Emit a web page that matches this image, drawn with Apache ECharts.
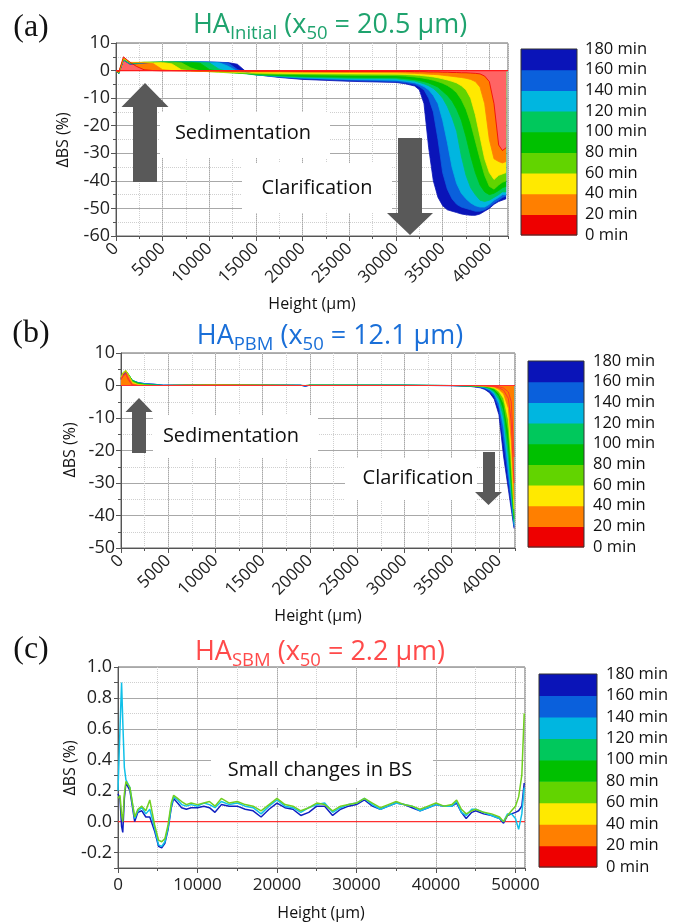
<!DOCTYPE html>
<html><head><meta charset="utf-8">
<script src="https://cdn.jsdelivr.net/npm/echarts@6/dist/echarts.min.js"></script>
<style>html,body{margin:0;padding:0;background:#fff}#c{width:677px;height:923px}</style>
</head><body><div id="c"></div>
<script>
// ---------- shared legend data ----------
const timesMin = [0, 20, 40, 60, 80, 100, 120, 140, 160, 180];
const bandColors = ['#ee0000', '#ff7f00', '#ffe900', '#62d400', '#00c000', '#00c85c', '#00b6e0', '#0a60dc', '#0a14b8'];

// ---------- panel (a) HA Initial ----------
const aHeight = [0,300,800,1500,2200,3000,4000,5000,6000,7000,8000,9000,10000,11000,12000,13000,14000,15000,17500,20000,25000,
  30000,31000,32000,32500,33000,33500,34000,34500,35000,35500,36000,36500,37000,37500,38000,38500,39000,39500,40000,40500,41000,41400,41800];
const a20  = [0,-0.5,5.0,3.0,1.5,0.3,0,-0.1,-0.1,-0.1,-0.1,-0.1,-0.1,-0.1,-0.2,-0.2,-0.2,-0.2,-0.2,-0.3,-0.3,
  -0.3,-0.3,-0.4,-0.4,-0.4,-0.5,-0.5,-0.5,-0.6,-0.6,-0.7,-0.7,-0.8,-0.8,-0.9,-1.0,-1.2,-2,-4,-12,-27,-29,-28];
const a40  = [0,-0.6,4.6,3.0,2.9,2.8,2.5,0.3,0,-0.1,-0.2,-0.3,-0.3,-0.3,-0.4,-0.4,-0.4,-0.5,-0.5,-0.6,-0.7,
  -0.8,-0.9,-1.0,-1.1,-1.2,-1.3,-1.4,-1.5,-1.7,-1.9,-2.1,-2.3,-2.5,-2.8,-3.2,-4,-6,-12,-25,-32,-33,-33.5,-33];
const a60  = [0,-0.7,4.4,2.9,3.0,3.0,3.0,2.9,2.4,0.3,-0.1,-0.3,-0.4,-0.5,-0.6,-0.7,-0.8,-0.9,-1.0,-1.1,-1.2,
  -1.3,-1.4,-1.6,-1.7,-1.9,-2.1,-2.3,-2.6,-3,-3.4,-3.9,-4.5,-5.5,-7,-10,-16,-24,-32,-37,-39.5,-38,-37.5,-37];
const a80  = [0,-0.8,4.3,2.8,2.9,3.0,3.0,3.0,3.0,2.8,1.0,-0.1,-0.4,-0.6,-0.8,-0.9,-1.0,-1.2,-1.4,-1.5,-1.7,
  -1.8,-2.0,-2.3,-2.5,-2.8,-3.1,-3.5,-4,-4.6,-5.4,-6.5,-8,-10.5,-14,-19,-25.5,-32,-38,-42,-43,-41.5,-40.5,-40];
const a100 = [0,-0.9,4.2,2.7,2.8,3.0,3.0,3.1,3.1,3.0,3.0,2.7,0.4,-0.3,-0.7,-0.9,-1.1,-1.4,-1.8,-2.1,-2.4,
  -2.6,-2.9,-3.3,-3.6,-4,-4.5,-5.2,-6,-7.5,-9,-11,-14,-18,-24,-31,-37,-41.5,-44,-45,-44.5,-43.5,-42.5,-42];
const a120 = [0,-1.0,4.1,2.6,2.8,2.9,3.0,3.1,3.1,3.1,3.1,3.0,2.8,0.6,-0.4,-0.9,-1.2,-1.6,-2.0,-2.4,-2.8,
  -3.0,-3.4,-3.8,-4.3,-4.8,-5.5,-6.5,-8,-10,-13,-17,-22,-31,-38,-42.5,-45,-47,-47.5,-47,-46,-45,-44,-44];
const a140 = [0,-1.0,4.0,2.5,2.7,2.9,3.0,3.1,3.1,3.2,3.2,3.1,3.0,2.9,1.6,-0.3,-1.0,-1.6,-2.2,-2.7,-3.2,
  -3.5,-3.9,-4.4,-5,-5.8,-7,-9,-12,-18,-26,-35,-41,-44.5,-46.5,-48,-49,-49.5,-49.5,-48.5,-47,-46,-45,-45];
const a160 = [0,-1.1,3.9,2.4,2.6,2.8,3.0,3.0,3.1,3.2,3.2,3.2,3.1,3.0,2.8,0.4,-0.8,-1.5,-2.3,-2.9,-3.5,
  -4.0,-4.4,-5.0,-5.8,-7,-10,-15,-25,-37,-43,-46.5,-48.5,-49.5,-50,-50.5,-51,-51,-50.5,-49.5,-48,-47,-46,-45.5];
const a180 = [0,-1.2,3.8,2.3,2.5,2.7,2.9,3.0,3.0,3.1,3.1,3.1,3.1,3.0,2.9,2.3,-0.6,-1.5,-2.5,-3.2,-3.9,
  -4.3,-4.8,-5.6,-7,-12,-28,-40,-46,-49,-50.5,-51,-51.5,-52,-52.3,-52.5,-52.5,-52,-51,-50,-48.5,-47.5,-47,-46.5];
const aZero = [[0, 0], [42000, 0]];

// ---------- panel (b) HA PBM ----------
const bHeight = [0,200,500,800,1200,1800,2500,3500,4500,10000,19000,19500,20000,30000,35000,
  37000,38000,38500,39000,39500,40000,40500,41000,41300,41600];
const b10  = [1.8,2.8,3.5,1.6,0.1,0,0,0,0, 0,0,0,0,0,0, 0,0,0,-0.1,-0.2,-0.4,-0.8,-2,-5,-22];
const b20  = [2.0,3.0,3.8,2.0,0.2,0,0,0,0, 0.1,0,0,0,0,0, 0,0,-0.1,-0.2,-0.3,-0.7,-1.5,-4,-11,-30];
const b40  = [2.2,3.5,4.3,2.8,0.6,0.1,0,0,0, 0.1,0,0,0,0,0, 0,-0.1,-0.1,-0.3,-0.5,-1.2,-2.6,-7,-17,-35];
const b60  = [2.3,3.8,4.6,3.2,1.0,0.3,0.1,0,0, 0.1,0,0,0,0,0, 0,-0.1,-0.2,-0.4,-0.8,-1.8,-4,-10.5,-22,-38];
const b80  = [2.3,3.9,4.7,3.4,1.3,0.5,0.2,0,0, 0.2,0,0,0.1,0,0, -0.1,-0.2,-0.3,-0.6,-1.1,-2.5,-5.5,-14,-26,-40];
const b100 = [2.3,3.9,4.6,3.4,1.5,0.7,0.3,0.1,0, 0.2,0,0,0.1,0.1,0, -0.1,-0.2,-0.4,-0.8,-1.5,-3.3,-7.5,-18,-29.5,-41];
const b120 = [2.2,3.8,4.5,3.4,1.6,0.8,0.4,0.2,0, 0.2,0.1,0,0.1,0.1,0, -0.1,-0.3,-0.5,-1.0,-2.0,-4.3,-10,-22,-32,-42];
const b140 = [2.1,3.6,4.3,3.3,1.6,0.9,0.5,0.3,0.1, 0.2,0.1,-0.1,0.1,0.1,0, -0.2,-0.4,-0.7,-1.3,-2.6,-5.5,-13,-26,-34,-43];
const b160 = [2.0,3.4,4.1,3.2,1.6,0.9,0.6,0.4,0.1, 0.2,0.1,-0.2,0.1,0.1,0, -0.2,-0.5,-0.9,-1.7,-3.3,-7,-17,-29,-36,-43.5];
const b180 = [1.9,3.2,3.9,3.1,1.5,0.9,0.6,0.4,0.1, 0.2,0.1,-0.3,0.1,0.1,-0.1, -0.3,-0.7,-1.2,-2.2,-4.2,-9,-22,-32,-38,-44];
const bZero = [[0, 0], [41700, 0]];

// ---------- panel (c) HA SBM ----------
const cHeight = [0,250,450,600,800,1000,1500,2100,2500,3000,3500,4000,4600,5100,5500,5900,6300,6700,7000,7500,8000,8600,9200,10000,10800,11500,12200,
  13000,14000,15000,16000,17000,18000,19000,20000,21000,22000,23000,24000,25000,26000,27000,28000,29000,30000,31000,32000,
  33000,34000,35000,36000,37000,38000,39000,40000,41000,42000,42600,43200,43800,44500,45000,46000,47000,48000,48500,49000,49500,50000,50400,50800,51100];
const cGreen = [0.15,0.17,0.05,0.0,0.18,0.26,0.22,0.03,0.08,0.10,0.07,0.14,-0.02,-0.12,-0.13,-0.11,-0.02,0.12,0.17,0.15,0.13,0.11,0.12,0.11,0.12,0.13,0.10,
  0.15,0.12,0.13,0.11,0.10,0.07,0.11,0.15,0.11,0.10,0.07,0.09,0.12,0.11,0.07,0.10,0.11,0.12,0.15,0.12,
  0.09,0.11,0.13,0.11,0.10,0.08,0.10,0.12,0.10,0.11,0.14,0.08,0.05,0.07,0.08,0.06,0.05,0.03,0.0,0.04,0.07,0.10,0.16,0.30,0.70];
const cCyan = [0.2,0.6,0.9,0.65,0.35,0.27,0.22,0.02,0.07,0.09,0.05,0.08,-0.04,-0.15,-0.16,-0.13,-0.04,0.10,0.16,0.14,0.11,0.10,0.11,0.10,0.12,0.11,0.09,
  0.13,0.11,0.12,0.10,0.09,0.05,0.10,0.14,0.10,0.09,0.06,0.09,0.11,0.12,0.06,0.09,0.11,0.12,0.15,0.11,
  0.08,0.10,0.12,0.11,0.10,0.07,0.09,0.11,0.10,0.10,0.13,0.06,0.04,0.08,0.08,0.06,0.04,0.02,0.0,0.05,0.05,0.02,-0.05,0.05,0.22];
const cBlue = [0.18,0.15,-0.03,-0.07,0.15,0.25,0.2,0.0,0.06,0.07,0.03,0.03,-0.06,-0.16,-0.17,-0.14,-0.05,0.09,0.15,0.12,0.09,0.08,0.09,0.09,0.10,0.09,0.06,
  0.11,0.10,0.10,0.08,0.07,0.03,0.08,0.12,0.09,0.08,0.04,0.06,0.10,0.10,0.04,0.08,0.10,0.11,0.14,0.10,
  0.08,0.10,0.12,0.11,0.09,0.07,0.09,0.11,0.10,0.10,0.12,0.06,0.02,0.06,0.07,0.05,0.04,0.02,-0.01,0.04,0.05,0.06,0.07,0.10,0.25];
const cZero = [[0, 0], [51200, 0]];

// ---------- rendering ----------
const FONT = '"Open Sans", "DejaVu Sans", sans-serif';
const zip = (xs, ys) => xs.map((x, i) => [x, ys[i]]);
const plain = v => String(v);

function xMain(grid, max, interval, rotate, margin) {
  return {
    type: 'value', gridIndex: grid, min: 0, max: max, interval: interval, position: 'bottom',
    axisLine: { show: true, onZero: false, lineStyle: { color: '#555' } },
    axisTick: { show: true, length: 5, lineStyle: { color: '#555' } },
    splitLine: { show: true, lineStyle: { color: '#a8a8a8', width: 1 } },
    axisLabel: { rotate: rotate, fontSize: 17, color: '#222', fontFamily: FONT, margin: margin, showMaxLabel: false, formatter: plain }
  };
}
function xMinor(grid, max, interval) {
  return {
    type: 'value', gridIndex: grid, min: 0, max: max, interval: interval, position: 'bottom',
    axisLine: { show: false, onZero: false }, axisLabel: { show: false },
    axisTick: { show: true, length: 3, lineStyle: { color: '#555' } },
    splitLine: { show: true, lineStyle: { color: '#cfcfcf', width: 1, type: 'dotted' } }
  };
}
function yMain(grid, min, max, interval) {
  return {
    type: 'value', gridIndex: grid, min: min, max: max, interval: interval,
    axisLine: { show: true, onZero: false, lineStyle: { color: '#555' } },
    axisTick: { show: true, length: 5, lineStyle: { color: '#555' } },
    minorTick: { show: true, splitNumber: 2, length: 3, lineStyle: { color: '#555' } },
    splitLine: { show: true, lineStyle: { color: '#a8a8a8', width: 1 } },
    minorSplitLine: { show: true, lineStyle: { color: '#cfcfcf', width: 1, type: 'dotted' } },
    axisLabel: { fontSize: 18, color: '#222', fontFamily: FONT, margin: 6, formatter: plain }
  };
}

const aCurves = [[180, a180], [160, a160], [140, a140], [120, a120], [100, a100], [80, a80], [60, a60], [40, a40], [20, a20]];
const bCurves = [[180, b180], [160, b160], [140, b140], [120, b120], [100, b100], [80, b80], [60, b60], [40, b40]];
const colorOf = t => bandColors[t / 20 - 1];
// early (0-20 min) profiles are sparse thin red lines on white: lighter fill
const fillOf = t => (t === 20 ? '#ff6464' : colorOf(t));

const series = [];
aCurves.forEach(([t, v]) => series.push({
  type: 'line', xAxisIndex: 0, yAxisIndex: 0, data: zip(aHeight, v), showSymbol: false, silent: true,
  lineStyle: { width: 0.8, color: colorOf(t) }, areaStyle: { color: fillOf(t), opacity: 1 }
}));
series.push({ type: 'line', xAxisIndex: 0, yAxisIndex: 0, data: aZero, showSymbol: false, silent: true, lineStyle: { width: 1.2, color: '#ff1a1a' } });

bCurves.forEach(([t, v]) => series.push({
  type: 'line', xAxisIndex: 2, yAxisIndex: 1, data: zip(bHeight, v), showSymbol: false, silent: true,
  lineStyle: { width: 0.8, color: colorOf(t) }, areaStyle: { color: colorOf(t), opacity: 1 }
}));
[[20, b20], [10, b10]].forEach(([t, v]) => series.push({
  type: 'line', xAxisIndex: 2, yAxisIndex: 1, data: zip(bHeight, v), showSymbol: false, silent: true,
  lineStyle: { width: 0.9, color: '#ff3030' }
}));
series.push({ type: 'line', xAxisIndex: 2, yAxisIndex: 1, data: bZero, showSymbol: false, silent: true, lineStyle: { width: 1.2, color: '#ff3030' } });

series.push({ type: 'line', xAxisIndex: 4, yAxisIndex: 2, data: cZero, showSymbol: false, silent: true, lineStyle: { width: 1.2, color: '#ff3030' } });
[[cBlue, '#1020c0'], [cCyan, '#10c0e8'], [cGreen, '#70d020']].forEach(([v, col]) => series.push({
  type: 'line', xAxisIndex: 4, yAxisIndex: 2, data: zip(cHeight, v), showSymbol: false, silent: true,
  lineStyle: { width: 1.5, color: col }
}));

// ---------- graphics ----------
const G = [];
function txt(x, y, text, size, color, opts) {
  G.push(Object.assign({ type: 'text', z: 101, x: x, y: y,
    style: { text: text, fontSize: size, fontFamily: FONT, fill: color || '#111', align: 'center', verticalAlign: 'middle' } }, opts || {}));
}
function rect(x, y, w, h, fill) { G.push({ type: 'rect', z: 100, shape: { x: x, y: y, width: w, height: h }, style: { fill: fill } }); }
function poly(points) { G.push({ type: 'polygon', z: 101, shape: { points: points }, style: { fill: '#595959' } }); }
function arrowUp(cx, tipY, baseY, endY, shaftW, headW) {
  poly([[cx - shaftW / 2, endY], [cx + shaftW / 2, endY], [cx + shaftW / 2, baseY], [cx + headW / 2, baseY], [cx, tipY], [cx - headW / 2, baseY], [cx - shaftW / 2, baseY]]);
}
function colorbar(x, y, w, h, labelX, size) {
  const n = bandColors.length, bh = h / n;
  bandColors.forEach((c, i) => G.push({ type: 'rect', z: 100, shape: { x: x, y: y + (n - 1 - i) * bh, width: w, height: bh + 0.6 }, style: { fill: c } }));
  G.push({ type: 'rect', z: 101, shape: { x: x, y: y, width: w, height: h }, style: { fill: null, stroke: '#333', lineWidth: 1 } });
  timesMin.forEach((t, j) => G.push({ type: 'text', z: 101, x: labelX, y: y + h - j * bh,
    style: { text: t + ' min', fontSize: size, fontFamily: FONT, fill: '#111', align: 'left', verticalAlign: 'middle' } }));
}
function title(x, y, main, sub, color) {
  G.push({ type: 'text', z: 101, x: x, y: y, style: {
    text: '{m|HA}{s|' + sub + '}{m| (x}{s|50}{m| = ' + main + ')}', align: 'center', verticalAlign: 'middle',
    rich: {
      m: { fontSize: 27, fontFamily: FONT, fill: color, lineHeight: 40 },
      s: { fontSize: 18.5, fontFamily: FONT, fill: color, lineHeight: 40, padding: [17, 0, 0, 0] }
    } } });
}

// panel labels
[['(a)', 28], ['(b)', 334], ['(c)', 650]].forEach(([t, y]) =>
  G.push({ type: 'text', z: 101, x: 31, y: y, style: { text: t, fontSize: 32, fontFamily: '"Liberation Serif", serif', fill: '#111', align: 'center', verticalAlign: 'middle' } }));
title(330, 25, '20.5 µm', 'Initial', '#1fa36e');
title(330, 336, '12.1 µm', 'PBM', '#1a6fd8');
title(320, 652, '2.2 µm', 'SBM', '#ff4a4a');

// axis names
[[63, 140], [70, 450], [70, 768]].forEach(([x, y]) => txt(x, y, 'ΔBS (%)', 16, '#111', { rotation: Math.PI / 2 }));
[[312, 304], [318, 616], [321, 913]].forEach(([x, y]) => txt(x, y, 'Height (µm)', 16, '#111'));

// annotations
rect(160, 112, 170, 46, '#fff'); txt(243, 133, 'Sedimentation', 20);
rect(242, 163, 150, 50, '#fff'); txt(317, 188, 'Clarification', 20);
arrowUp(145, 83, 107, 182, 24, 47);
poly([[398, 138], [422, 138], [422, 213], [433, 213], [410, 235], [387, 213], [398, 213]]);

rect(153, 415, 165, 43, '#fff'); txt(231, 436, 'Sedimentation', 20);
rect(345, 458, 132, 42, '#fff'); txt(418, 478, 'Clarification', 20);
arrowUp(139, 398, 412, 453, 14, 27);
poly([[483, 452], [495, 452], [495, 492], [502, 492], [488.5, 505], [475, 492], [483, 492]]);

rect(211, 748, 222, 40, '#fff'); txt(320, 770, 'Small changes in BS', 20);

colorbar(521, 49, 56, 186, 585, 16.5);
colorbar(528, 361, 56, 186, 593, 16.5);
colorbar(539, 674, 58, 193, 606, 16.5);

const cYMajor = {
  type: 'value', gridIndex: 2, min: -0.3, max: 1.0, interval: 0.1,
  axisLine: { show: true, onZero: false, lineStyle: { color: '#555' } },
  axisTick: { show: true, length: 4, lineStyle: { color: '#555' } },
  splitLine: { show: true, lineStyle: { color: ['rgba(0,0,0,0)', '#a8a8a8'], width: 1 } },
  axisLabel: { fontSize: 18, color: '#222', fontFamily: FONT, margin: 6,
    formatter: v => (Math.round(v * 10) % 2 === 0 ? v.toFixed(1) : '') }
};
const cYMinor = {
  type: 'value', gridIndex: 2, min: -0.3, max: 1.0, interval: 0.1, position: 'left',
  axisLine: { show: false, onZero: false }, axisTick: { show: false }, axisLabel: { show: false },
  splitLine: { show: true, lineStyle: { color: ['#cfcfcf', 'rgba(0,0,0,0)'], width: 1, type: 'dotted' } }
};

const option = {
  animation: false,
  backgroundColor: '#fff',
  grid: [
    { left: 116, top: 43, width: 392, height: 193, show: true, borderColor: '#666', borderWidth: 1, backgroundColor: 'transparent' },
    { left: 121, top: 353, width: 394, height: 195, show: true, borderColor: '#666', borderWidth: 1, backgroundColor: 'transparent' },
    { left: 118, top: 667, width: 407, height: 201, show: true, borderColor: '#666', borderWidth: 1, backgroundColor: 'transparent' }
  ],
  xAxis: [
    xMain(0, 42000, 5000, 45, 10), xMinor(0, 42000, 2500),
    xMain(1, 41700, 5000, 45, 10), xMinor(1, 41700, 2500),
    xMain(2, 51200, 10000, 0, 9), xMinor(2, 51200, 5000)
  ],
  yAxis: [ yMain(0, -60, 10, 10), yMain(1, -50, 10, 10), cYMajor, cYMinor ],
  series: series,
  graphic: { elements: G }
};
const chart = echarts.init(document.getElementById('c'));
chart.setOption(option);
</script>
</body></html>
